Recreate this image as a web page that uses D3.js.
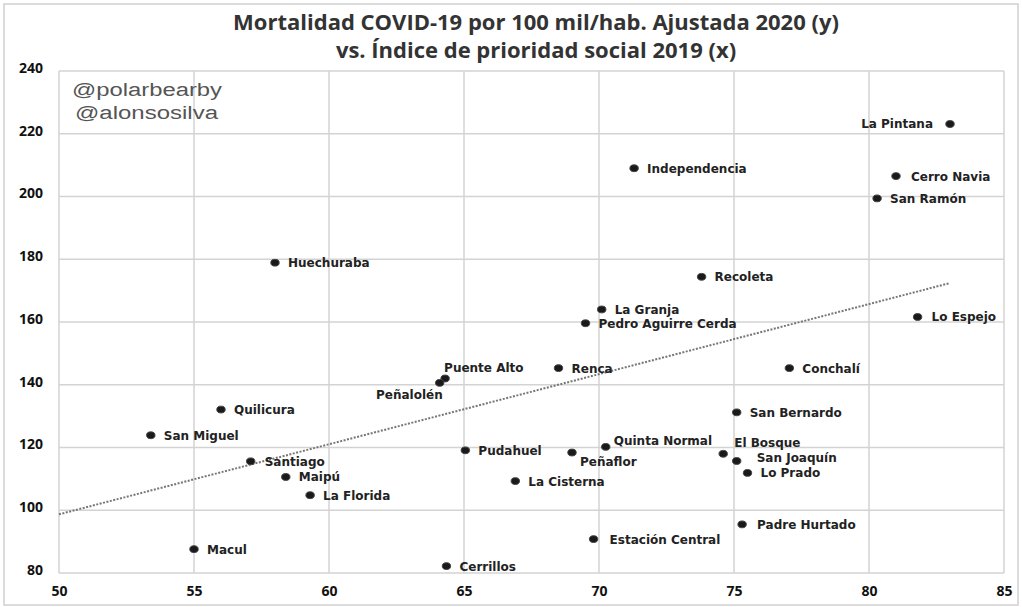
<!DOCTYPE html>
<html>
<head>
<meta charset="utf-8">
<script src="https://cdn.jsdelivr.net/npm/d3@7"></script>
<style>
  body { margin: 0; background: #fff; }
  svg { display: block; }
</style>
</head>
<body>
<div id="chart"></div>
<script>
// comunas, índice de prioridad social 2019 (x) y mortalidad ajustada 2020 (y)
var comunas = ["La Pintana", "Independencia", "Cerro Navia", "San Ramón", "Huechuraba",
  "Recoleta", "La Granja", "Pedro Aguirre Cerda", "Lo Espejo", "Puente Alto", "Peñalolén",
  "Renca", "Conchalí", "Quilicura", "San Bernardo", "San Miguel", "Santiago", "Maipú",
  "La Florida", "Pudahuel", "Peñaflor", "Quinta Normal", "El Bosque", "San Joaquín",
  "Lo Prado", "La Cisterna", "Padre Hurtado", "Estación Central", "Macul", "Cerrillos"];
var indice = [83.0, 71.3, 81.0, 80.3, 58.0, 73.8, 70.1, 69.5, 81.8, 64.3, 64.1,
  68.5, 77.05, 56.0, 75.1, 53.4, 57.1, 58.4, 59.3, 65.05, 69.0, 70.25, 74.6, 75.1,
  75.5, 66.9, 75.3, 69.8, 55.0, 64.35];
var mortalidad = [223.1, 209.0, 206.5, 199.4, 178.9, 174.4, 164.0, 159.6, 161.6, 142.0, 140.6,
  145.3, 145.3, 132.1, 131.2, 123.9, 115.6, 110.6, 104.8, 119.1, 118.4, 120.2, 118.0, 115.7,
  111.9, 109.3, 95.5, 90.8, 87.6, 82.2];

// línea de tendencia (extremos)
var trendX = [50, 82.95];
var trendY = [98.7, 172.3];

var xTicks = [50, 55, 60, 65, 70, 75, 80, 85];
var yTicks = [80, 100, 120, 140, 160, 180, 200, 220, 240];

var titleLines = ["Mortalidad COVID-19 por 100 mil/hab. Ajustada 2020 (y)",
  "vs. Índice de prioridad social 2019 (x)"];
var firmas = ["@polarbearby", "@alonsosilva"];

// label placement (pixels relative to the dot)
var labelPos = {
  "La Pintana": {dx: -17, dy: -1, anchor: "end"},
  "Cerro Navia": {dx: 15, dy: 0},
  "Puente Alto": {dx: -1, dy: -11},
  "Peñalolén": {dx: 3, dy: 12, anchor: "end"},
  "Peñaflor": {dx: 8, dy: 9},
  "Quinta Normal": {dx: 8, dy: -6},
  "El Bosque": {dx: 11, dy: -11},
  "San Joaquín": {dx: 20, dy: -3},
  "Santiago": {dx: 14, dy: 0},
  "Lo Espejo": {dx: 14, dy: 0},
  "Estación Central": {dx: 16, dy: 0},
  "Padre Hurtado": {dx: 15, dy: 0}
};

var width = 1022,
    height = 607,
    margin = {top: 71, right: 18, bottom: 34, left: 59};

var svg = d3.select("#chart")
    .append("svg")
    .attr("width", width)
    .attr("height", height);

// marco exterior
svg.append("rect")
    .attr("x", 4).attr("y", 4)
    .attr("width", width - 8).attr("height", height - 6)
    .attr("fill", "none")
    .attr("stroke", "#d0d0d0")
    .attr("stroke-width", 1.5);

var x = d3.scaleLinear()
    .domain([50, 85])
    .range([margin.left, width - margin.right]);

var y = d3.scaleLinear()
    .domain([80, 240])
    .range([height - margin.bottom, margin.top]);

// grid
var grid = svg.append("g");
grid.selectAll(".vgrid")
    .data(xTicks)
    .enter().append("line")
    .attr("x1", d => x(d)).attr("x2", d => x(d))
    .attr("y1", y(240)).attr("y2", y(80))
    .attr("stroke", "#d3d3d3")
    .attr("stroke-width", 1.5);
grid.selectAll(".hgrid")
    .data(yTicks)
    .enter().append("line")
    .attr("x1", x(50)).attr("x2", x(85))
    .attr("y1", d => y(d)).attr("y2", d => y(d))
    .attr("stroke", "#d3d3d3")
    .attr("stroke-width", 1.5);

// axes
var xAxis = svg.append("g")
    .attr("transform", "translate(0," + y(80) + ")")
    .call(d3.axisBottom(x).tickValues(xTicks).tickSize(0).tickPadding(12));
var yAxis = svg.append("g")
    .attr("transform", "translate(" + (margin.left - 16) + ",0)")
    .call(d3.axisLeft(y).tickValues(yTicks).tickSize(0).tickPadding(0));
[xAxis, yAxis].forEach(function(a) {
  a.select(".domain").remove();
  a.selectAll("text")
      .style("font-family", "'Open Sans', sans-serif")
      .style("font-weight", "bold")
      .style("font-size", "14px")
      .style("fill", "#111");
});
yAxis.selectAll("text").attr("dy", "0.1em");
xAxis.selectAll("text").attr("dy", "0.75em");

// title
svg.selectAll(".title")
    .data(titleLines)
    .enter().append("text")
    .attr("x", 536)
    .attr("y", (d, i) => 30 + i * 28)
    .attr("text-anchor", "middle")
    .style("font-family", "'Open Sans', sans-serif")
    .style("font-weight", "bold")
    .style("font-size", "22px")
    .style("fill", "#333")
    .text(d => d);

// firmas
var firmaLen = [150, 143];
svg.selectAll(".firma")
    .data(firmas)
    .enter().append("text")
    .attr("x", (d, i) => 72 + i * 3)
    .attr("y", (d, i) => 96 + i * 23)
    .attr("textLength", (d, i) => firmaLen[i])
    .attr("lengthAdjust", "spacingAndGlyphs")
    .style("font-family", "'Liberation Sans', Arial, sans-serif")
    .style("font-size", "18px")
    .style("fill", "#555")
    .text(d => d);

// trend line
var trend = trendX.map((d, i) => ({x: d, y: trendY[i]}));
svg.append("path")
    .datum(trend)
    .attr("d", d3.line().x(d => x(d.x)).y(d => y(d.y)))
    .attr("fill", "none")
    .attr("stroke", "#777")
    .attr("stroke-width", 2)
    .attr("stroke-dasharray", "2,1.5");

// points
var data = comunas.map((d, i) => ({name: d, x: indice[i], y: mortalidad[i]}));

var node = svg.append("g")
    .selectAll("g")
    .data(data)
    .enter().append("g")
    .attr("transform", d => "translate(" + x(d.x) + "," + y(d.y) + ")");

node.append("ellipse")
    .attr("rx", 4.2)
    .attr("ry", 3.4)
    .attr("fill", "#1a1a1a")
    .attr("stroke", "#444")
    .attr("stroke-width", 1);

node.append("text")
    .text(d => d.name)
    .attr("x", d => (labelPos[d.name] || {dx: 13}).dx)
    .attr("y", d => (labelPos[d.name] || {dy: 0}).dy + 4.5)
    .attr("text-anchor", d => (labelPos[d.name] || {}).anchor || "start")
    .style("font-family", "'DejaVu Sans', Verdana, sans-serif")
    .style("font-weight", "bold")
    .style("font-size", "12px")
    .style("fill", "#222");
</script>
</body>
</html>
